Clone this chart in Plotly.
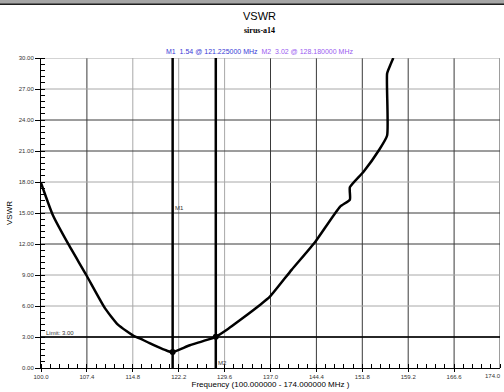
import plotly.graph_objects as go

# ---- data ----
freq = [100.0, 101.9, 104.3, 107.3, 110.3, 112.4, 115.1, 116.0, 117.5, 119.2, 120.4, 121.225,
        122.4, 124.0, 126.0, 128.18, 130.2, 132.1, 135.3, 136.9, 140.4, 144.2, 148.2,
        149.8, 149.8, 152.0, 154.5, 155.8, 155.8, 156.3, 156.8]
vswr = [17.9, 14.8, 12.1, 9.0, 5.8, 4.2, 3.05, 2.85, 2.4, 1.94, 1.65, 1.54,
        1.8, 2.2, 2.58, 3.02, 3.8, 4.64, 6.1, 6.9, 9.5, 12.2, 15.6,
        16.3, 17.5, 19.0, 21.1, 22.5, 28.5, 29.3, 30.0]

marker_names = ["M1", "M2"]
marker_freq = [121.225, 128.18]
marker_vswr = [1.54, 3.02]
marker_label_y = [15.5, 0.5]

limit_value = 3.0

x_ticks = [100.0, 107.4, 114.8, 122.2, 129.6, 137.0, 144.4, 151.8, 159.2, 166.6, 174.0]
x_ticktext = ["100.0", "107.4", "114.8", "122.2", "129.6", "137.0", "144.4", "151.8",
              "159.2", "166.6", "174.0"]
y_ticks = [0, 3, 6, 9, 12, 15, 18, 21, 24, 27, 30]

# grid appearance (light / dark alternation as in the reference rendering)
x_grid_light = [114.8, 122.2, 129.6]
y_grid_light = [30, 27, 18, 9, 6]

W, H = 504, 392
ML, MR, MT, MB = 41, 4, 58, 24
PW, PH = W - ML - MR, H - MT - MB

def px2x(px):
    return (px - ML) / PW

def py2y(py):
    return (H - MB - py) / PH

fig = go.Figure()

fig.add_trace(go.Scatter(x=freq, y=vswr, mode="lines",
                         line=dict(color="black", width=2.5, shape="spline", smoothing=0.5),
                         hoverinfo="skip", cliponaxis=True))
fig.add_trace(go.Scatter(x=marker_freq, y=marker_vswr, mode="markers",
                         marker=dict(color="black", size=6), hoverinfo="skip"))

shapes = []
# grid lines
for xv in x_ticks[1:]:
    c = "#a8a8a8" if xv in x_grid_light else "#3a3a3a"
    shapes.append(dict(type="line", xref="x", yref="y", x0=xv, x1=xv, y0=0, y1=30,
                       line=dict(color=c, width=1), layer="below"))
for yv in y_ticks[1:]:
    c = "#a8a8a8" if yv in y_grid_light else "#3a3a3a"
    shapes.append(dict(type="line", xref="x", yref="y", x0=100, x1=174, y0=yv, y1=yv,
                       line=dict(color=c, width=1), layer="below"))
# limit line
shapes.append(dict(type="line", xref="x", yref="y", x0=100, x1=174, y0=limit_value,
                   y1=limit_value, line=dict(color="black", width=1.5)))
# marker lines
for mf in marker_freq:
    shapes.append(dict(type="line", xref="x", yref="y", x0=mf, x1=mf, y0=0, y1=30,
                       line=dict(color="black", width=2.5)))
# top window bar
shapes.append(dict(type="rect", xref="paper", yref="paper", x0=px2x(0), x1=px2x(W),
                   y0=py2y(4), y1=py2y(0), fillcolor="#a6a6a6", line=dict(width=0)))
shapes.append(dict(type="line", xref="paper", yref="paper", x0=px2x(0), x1=px2x(W),
                   y0=py2y(4.3), y1=py2y(4.3), line=dict(color="#202020", width=1.5)))

tickfont = dict(family="Liberation Sans Narrow, Liberation Sans, Arial", size=6, color="#333")

annotations = [
    dict(text="VSWR", xref="paper", yref="paper", x=px2x(259), y=py2y(16),
         xanchor="center", yanchor="middle", showarrow=False,
         font=dict(family="Liberation Sans, Arial", size=11, color="black")),
    dict(text="<b>sirus-a14</b>", xref="paper", yref="paper", x=px2x(259), y=py2y(31),
         xanchor="center", yanchor="middle", showarrow=False,
         font=dict(family="Liberation Serif, Times New Roman", size=8, color="black")),
    dict(text="<span style='color:#3a3ad6'>M1&nbsp;&nbsp;1.54 @ 121.225000 MHz</span>"
              "&nbsp;&nbsp;<span style='color:#9a5cf0'>M2&nbsp;&nbsp;3.02 @ 128.180000 MHz</span>",
         xref="paper", yref="paper", x=px2x(259), y=py2y(51),
         xanchor="center", yanchor="middle", showarrow=False,
         font=dict(family="Liberation Sans, Arial", size=7)),
    dict(text="Limit: 3.00", xref="x", yref="y", x=100.5, y=limit_value,
         xanchor="left", yanchor="bottom", showarrow=False, yshift=-1,
         font=dict(family="Liberation Sans Narrow, Liberation Sans, Arial", size=6, color="#333")),
    # last x tick label, nudged so it stays inside the picture
    dict(text=x_ticktext[-1], xref="x", yref="paper", x=x_ticks[-1], y=0,
         xanchor="right", yanchor="top", yshift=-3, xshift=3, showarrow=False, font=tickfont),
]
for name, mf, ly in zip(marker_names, marker_freq, marker_label_y):
    annotations.append(dict(text=name, xref="x", yref="y", x=mf, y=ly,
                            xanchor="left", yanchor="middle", showarrow=False, xshift=0,
                            font=dict(family="Liberation Sans Narrow, Liberation Sans, Arial",
                                      size=6, color="#333")))

fig.update_layout(
    width=W, height=H,
    margin=dict(l=ML, r=MR, t=MT, b=MB, pad=0),
    paper_bgcolor="white", plot_bgcolor="white",
    showlegend=False,
    shapes=shapes,
    annotations=annotations,
    xaxis=dict(range=[100, 174], tickvals=x_ticks[:-1], ticktext=x_ticktext[:-1],
               showgrid=False, zeroline=False, showline=True, linecolor="black",
               linewidth=1, ticks="outside", ticklen=3, tickcolor="black",
               tickfont=tickfont, automargin=False,
               minor=dict(ticks="inside", ticklen=4, dtick=1.48, tick0=100,
                          tickcolor="black", showgrid=False),
               title=dict(text="Frequency (100.000000 - 174.000000 MHz )",
                          font=dict(family="Liberation Sans, Arial", size=8, color="black"),
                          standoff=2)),
    yaxis=dict(range=[0, 30], tickvals=y_ticks, tickformat=".2f",
               showgrid=False, zeroline=False, showline=True, linecolor="black",
               linewidth=1, ticks="outside", ticklen=5, tickcolor="black",
               tickfont=tickfont, automargin=False,
               minor=dict(ticks="inside", ticklen=4, dtick=0.6, tick0=0,
                          tickcolor="black", showgrid=False),
               title=dict(text="VSWR",
                          font=dict(family="Liberation Sans, Arial", size=8, color="black"),
                          standoff=4)),
)

fig.write_html("out.html", config={"displayModeBar": False, "staticPlot": True},
               post_script="document.body.style.margin='0';document.body.style.overflow='hidden';")
